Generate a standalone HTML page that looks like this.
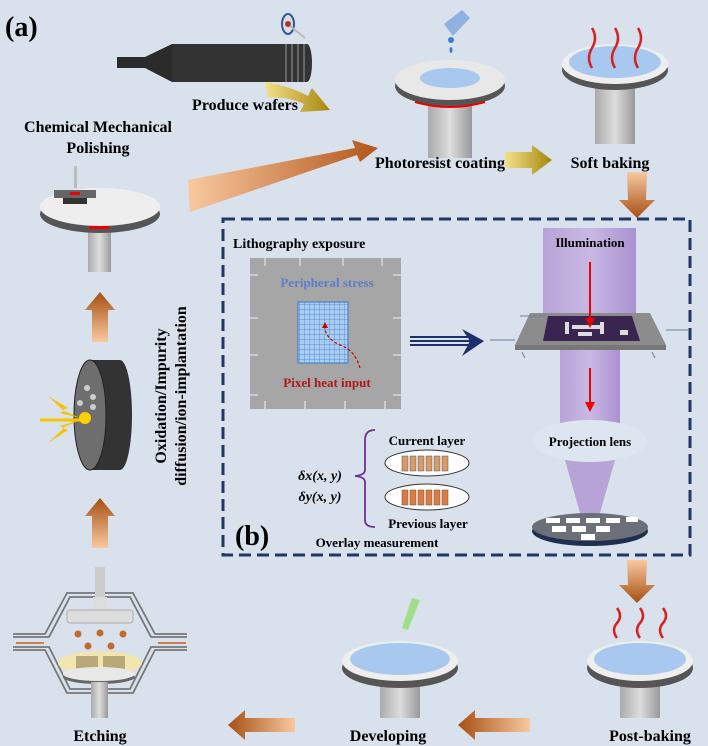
<!DOCTYPE html>
<html><head><style>
html,body{margin:0;padding:0;background:#d9e1ec;}
svg{display:block;}
text{font-family:"Liberation Serif",serif;font-weight:bold;}
</style></head><body>
<svg width="708" height="746" viewBox="0 0 708 746" xmlns="http://www.w3.org/2000/svg">
<defs>
<linearGradient id="og" x1="0" y1="0" x2="1" y2="0"><stop offset="0" stop-color="#f8c9a0"/><stop offset="1" stop-color="#b2561a"/></linearGradient>
<linearGradient id="ogv" x1="0" y1="1" x2="0" y2="0"><stop offset="0" stop-color="#f8c9a0"/><stop offset="1" stop-color="#a64f12"/></linearGradient>
<linearGradient id="ogd" x1="0" y1="0" x2="0" y2="1"><stop offset="0" stop-color="#f8c9a0"/><stop offset="1" stop-color="#a64f12"/></linearGradient>
<linearGradient id="ogl" x1="1" y1="0" x2="0" y2="0"><stop offset="0" stop-color="#f8c9a0"/><stop offset="1" stop-color="#a64f12"/></linearGradient>
<linearGradient id="gg" x1="0" y1="0" x2="1" y2="0"><stop offset="0" stop-color="#f3e08a"/><stop offset="1" stop-color="#a8860c"/></linearGradient>
<linearGradient id="stem" x1="0" y1="0" x2="1" y2="0"><stop offset="0" stop-color="#aaa"/><stop offset=".5" stop-color="#ddd"/><stop offset="1" stop-color="#999"/></linearGradient>
<linearGradient id="pur" x1="0" y1="0" x2="1" y2="0"><stop offset="0" stop-color="#b7a3d6"/><stop offset=".5" stop-color="#c9b8e4"/><stop offset="1" stop-color="#a992cf"/></linearGradient>
<pattern id="grid" width="5" height="5" patternUnits="userSpaceOnUse"><rect width="5" height="5" fill="#a9cdf2"/><path d="M5 0V5H0" fill="none" stroke="#3b78c4" stroke-width=".7"/></pattern>
</defs>

<text x="5" y="36" font-size="28">(a)</text>

<!-- pen -->
<rect x="117" y="57" width="28" height="11" fill="#2b2b2b"/>
<polygon points="145,57 172,44 172,82 145,68" fill="#2b2b2b"/>
<rect x="172" y="44" width="135" height="38" fill="#333"/>
<ellipse cx="307" cy="63" rx="5" ry="19" fill="#333"/>
<g stroke="#888" stroke-width="1.2"><line x1="286" y1="44" x2="286" y2="82"/><line x1="292" y1="44" x2="292" y2="82"/><line x1="298" y1="44" x2="298" y2="82"/><line x1="304" y1="44" x2="304" y2="82"/></g>
<ellipse cx="288" cy="24" rx="6" ry="10" fill="#ddd" stroke="#2f5597" stroke-width="2"/><circle cx="288" cy="24" r="3" fill="#a33"/>
<line x1="290" y1="26" x2="305" y2="38" stroke="#bbb" stroke-width="2"/>
<text x="245" y="110" font-size="16" text-anchor="middle">Produce wafers</text>
<path d="M265 82 Q290 86 308 96 L312 88 L330 110 L300 112 L304 104 Q288 96 268 98Z" fill="url(#gg)"/>

<!-- photoresist -->
<rect x="428" y="92" width="44" height="66" fill="url(#stem)"/>
<ellipse cx="450" cy="86" rx="55" ry="20" fill="#555"/>
<ellipse cx="450" cy="80" rx="55" ry="20" fill="#e8e8e8"/>
<ellipse cx="450" cy="78" rx="30" ry="10" fill="#a9c8ef"/>
<path d="M415 102 Q450 112 485 102" fill="none" stroke="#e00" stroke-width="2"/>
<path d="M444 24 L462 10 L470 18 L453 36Z" fill="#8fb2e0"/><circle cx="451" cy="40" r="3" fill="#3a7bd5"/><ellipse cx="451" cy="50" rx="1.5" ry="3" fill="#3a7bd5"/>
<text x="440" y="168" font-size="16" text-anchor="middle">Photoresist coating</text>
<polygon points="505,152 532,152 532,145 552,160 532,175 532,168 505,168" fill="url(#gg)"/>

<!-- soft baking -->
<rect x="595" y="78" width="40" height="66" fill="url(#stem)"/>
<ellipse cx="615" cy="70" rx="53" ry="20" fill="#555"/>
<ellipse cx="615" cy="64" rx="53" ry="20" fill="#eee"/>
<ellipse cx="615" cy="62" rx="46" ry="16" fill="#a9c8ef"/>
<g fill="none" stroke="#d82020" stroke-width="2.5">
<path d="M592 68 q-6 -10 0 -20 q6 -10 0 -20"/><path d="M615 68 q-6 -10 0 -20 q6 -10 0 -20"/><path d="M638 68 q-6 -10 0 -20 q6 -10 0 -20"/></g>
<text x="610" y="168" font-size="16" text-anchor="middle">Soft baking</text>
<polygon points="627,172 647,172 646,200 655,200 637,218 619,200 628,200" fill="url(#ogd)"/>

<!-- big wedge arrow -->
<polygon points="188,180 355,148 352,140 378,148 360,162 357,155 190,212" fill="url(#og)"/>

<!-- CMP -->
<text x="98" y="132" font-size="16" text-anchor="middle">Chemical Mechanical</text>
<text x="98" y="153" font-size="16" text-anchor="middle">Polishing</text>
<rect x="88" y="222" width="23" height="50" fill="url(#stem)"/>
<ellipse cx="100" cy="214" rx="60" ry="19" fill="#555"/>
<ellipse cx="100" cy="207" rx="60" ry="19" fill="#eee"/>
<rect x="74" y="166" width="3" height="22" fill="#bbb"/>
<rect x="54" y="190" width="42" height="8" fill="#666"/><rect x="63" y="198" width="24" height="6" fill="#333"/>
<rect x="70" y="192" width="10" height="3" fill="#e00"/>
<rect x="89" y="226" width="20" height="3" fill="#e00"/>

<!-- up arrows -->
<polygon points="92,342 108,342 108,310 115,310 100,292 85,310 92,310" fill="url(#ogv)"/>
<polygon points="92,548 108,548 108,516 115,516 100,498 85,516 92,516" fill="url(#ogv)"/>

<!-- cylinder -->
<path d="M90 360 L120 360 A12 55 0 0 1 120 470 L90 470Z" fill="#333"/>
<ellipse cx="90" cy="415" rx="16" ry="55" fill="#6e6e6e" stroke="#222"/>
<circle cx="87" cy="388" r="3" fill="#ccc"/><circle cx="93" cy="397" r="3" fill="#ccc"/><circle cx="80" cy="403" r="3" fill="#ccc"/><circle cx="93" cy="407" r="3" fill="#ccc"/>
<line x1="40" y1="420" x2="82" y2="420" stroke="#f5c400" stroke-width="3"/>
<polygon points="48,396 68,408 62,410 80,418 60,413 64,411" fill="#f5c400"/>
<polygon points="48,443 68,430 62,428 80,420 60,426 64,428" fill="#f5c400"/>
<circle cx="85" cy="418" r="6" fill="#ffd000"/>
<text transform="translate(166,396) rotate(-90)" font-size="16" text-anchor="middle">Oxidation/Impurity</text>
<text transform="translate(186,396) rotate(-90)" font-size="16" text-anchor="middle">diffusion/ion-implantation</text>

<!-- etching -->
<g fill="none" stroke="#777" stroke-width="1.8">
<path d="M13 634 H45 L67 593 H133 L155 634 H187"/><path d="M13 637 H49 L70 597 H130 L151 637 H187"/>
<path d="M13 650 H45 L67 693 H133 L155 650 H187"/><path d="M13 647 H49 L70 689 H130 L151 647 H187"/>
</g>
<line x1="16" y1="643" x2="44" y2="643" stroke="#c06020" stroke-width="1.5"/>
<line x1="158" y1="643" x2="186" y2="643" stroke="#c06020" stroke-width="1.5"/>
<rect x="95" y="567" width="10" height="32" fill="#ccc"/>
<rect x="93" y="597" width="14" height="14" fill="#ddd"/>
<rect x="67" y="610" width="66" height="13" rx="3" fill="#ddd" stroke="#aaa"/>
<ellipse cx="100" cy="663" rx="42" ry="12" fill="#f3e5b0"/>
<rect x="76" y="656" width="22" height="14" fill="#b9a878"/><rect x="103" y="656" width="22" height="14" fill="#b9a878"/>
<ellipse cx="99" cy="677" rx="36" ry="7" fill="#666"/>
<ellipse cx="99" cy="674" rx="36" ry="7" fill="#e8e8e8"/>
<rect x="91" y="682" width="17" height="36" fill="url(#stem)"/>
<g fill="#c06a30"><circle cx="78" cy="634" r="3.5"/><circle cx="100" cy="633" r="3.5"/><circle cx="123" cy="634" r="3.5"/><circle cx="88" cy="646" r="3.5"/><circle cx="111" cy="646" r="3.5"/></g>
<text x="100" y="741" font-size="16" text-anchor="middle">Etching</text>

<!-- bottom left arrows -->
<polygon points="530,718 475,718 475,710 458,725 475,740 475,732 530,732" fill="url(#ogl)"/>
<polygon points="295,718 245,718 245,710 228,725 245,740 245,732 295,732" fill="url(#ogl)"/>

<!-- developing -->
<rect x="380" y="672" width="40" height="46" fill="url(#stem)"/>
<ellipse cx="400" cy="668" rx="58" ry="20" fill="#555"/>
<ellipse cx="400" cy="661" rx="58" ry="20" fill="#eee"/>
<ellipse cx="400" cy="659" rx="50" ry="16" fill="#a9c8ef"/>
<path d="M402 628 L412 598 L420 600 L408 630Z" fill="#9ee08a"/>
<text x="388" y="741" font-size="16" text-anchor="middle">Developing</text>

<!-- post baking -->
<rect x="620" y="672" width="40" height="46" fill="url(#stem)"/>
<ellipse cx="640" cy="668" rx="53" ry="20" fill="#555"/>
<ellipse cx="640" cy="661" rx="53" ry="20" fill="#eee"/>
<ellipse cx="640" cy="659" rx="46" ry="16" fill="#a9c8ef"/>
<g fill="none" stroke="#d82020" stroke-width="2.5">
<path d="M617 638 q-6 -8 0 -15 q6 -7 0 -15"/><path d="M640 638 q-6 -8 0 -15 q6 -7 0 -15"/><path d="M663 638 q-6 -8 0 -15 q6 -7 0 -15"/></g>
<text x="650" y="741" font-size="16" text-anchor="middle">Post-baking</text>
<polygon points="627,560 647,560 646,585 655,585 637,603 619,585 628,585" fill="url(#ogd)"/>

<!-- dashed box -->
<rect x="223" y="219" width="467" height="336" fill="none" stroke="#1f3864" stroke-width="3" stroke-dasharray="12,6"/>
<text x="233" y="248" font-size="14">Lithography exposure</text>
<rect x="250" y="258" width="151" height="151" fill="#a6a6a6"/>
<g stroke="#eef" stroke-width="1"><line x1="265" y1="258" x2="265" y2="266"/><line x1="300" y1="258" x2="300" y2="266"/><line x1="343" y1="258" x2="343" y2="266"/><line x1="382" y1="258" x2="382" y2="266"/>
<line x1="265" y1="401" x2="265" y2="409"/><line x1="305" y1="401" x2="305" y2="409"/><line x1="345" y1="401" x2="345" y2="409"/><line x1="385" y1="401" x2="385" y2="409"/>
<line x1="250" y1="275" x2="258" y2="275"/><line x1="250" y1="318" x2="258" y2="318"/><line x1="250" y1="355" x2="258" y2="355"/><line x1="250" y1="395" x2="258" y2="395"/>
<line x1="393" y1="275" x2="401" y2="275"/><line x1="393" y1="318" x2="401" y2="318"/><line x1="393" y1="355" x2="401" y2="355"/><line x1="393" y1="395" x2="401" y2="395"/></g>
<rect x="298" y="302" width="50" height="61" fill="url(#grid)" stroke="#3b78c4"/>
<path d="M360 368 Q355 350 340 345 Q325 338 325 327" fill="none" stroke="#c00" stroke-width="1.2" stroke-dasharray="3,2"/>
<polygon points="322,328 328,328 325,322" fill="#c00"/>
<text x="327" y="287" font-size="13" fill="#5b7fc7" text-anchor="middle">Peripheral stress</text>
<text x="327" y="387" font-size="13" fill="#b01818" text-anchor="middle">Pixel heat input</text>
<g stroke="#1f2f6e" stroke-width="2"><line x1="410" y1="337" x2="470" y2="337"/><line x1="410" y1="341" x2="470" y2="341"/><line x1="410" y1="345" x2="470" y2="345"/></g>
<polygon points="462,329 484,341 462,356 470,341" fill="#1f2f6e"/>

<!-- overlay -->
<path d="M375 430 Q365 430 365 440 V470 Q365 475 355 476 Q365 477 365 482 V520 Q365 527 375 527" fill="none" stroke="#7030a0" stroke-width="1.8"/>
<text x="427" y="445" font-size="13" text-anchor="middle">Current layer</text>
<text x="428" y="528" font-size="13" text-anchor="middle">Previous layer</text>
<ellipse cx="427" cy="463" rx="42" ry="13" fill="#fff" stroke="#333"/>
<ellipse cx="427" cy="497" rx="42" ry="13" fill="#fff" stroke="#333"/>
<g fill="#d79a6a" stroke="#555" stroke-width=".5">
<rect x="402" y="456" width="6" height="15"/><rect x="410" y="456" width="6" height="15"/><rect x="418" y="456" width="6" height="15"/><rect x="426" y="456" width="6" height="15"/><rect x="434" y="456" width="6" height="15"/><rect x="442" y="456" width="6" height="15"/>
<rect x="402" y="490" width="6" height="15" fill="#e07a3a"/><rect x="410" y="490" width="6" height="15" fill="#e07a3a"/><rect x="418" y="490" width="6" height="15" fill="#e07a3a"/><rect x="426" y="490" width="6" height="15" fill="#e07a3a"/><rect x="434" y="490" width="6" height="15" fill="#e07a3a"/><rect x="442" y="490" width="6" height="15" fill="#e07a3a"/></g>
<text x="320" y="480" font-size="14" font-style="italic" text-anchor="middle">δx(x, y)</text>
<text x="320" y="501" font-size="14" font-style="italic" text-anchor="middle">δy(x, y)</text>
<text x="235" y="545" font-size="28">(b)</text>
<text x="377" y="547" font-size="13" text-anchor="middle">Overlay measurement</text>

<!-- optics -->
<rect x="543" y="228" width="93" height="92" fill="url(#pur)"/>
<text x="590" y="247" font-size="13" text-anchor="middle">Illumination</text>
<polygon points="530,313 650,313 666,345 515,345" fill="#8c8c8c"/>
<rect x="515" y="345" width="151" height="5" fill="#777"/>
<polygon points="548,316 632,316 640,341 543,341" fill="#3a2550"/>
<g fill="#ddd"><rect x="565" y="322" width="4" height="12"/><rect x="572" y="325" width="28" height="4"/><rect x="600" y="322" width="4" height="12"/><rect x="578" y="332" width="14" height="4"/><rect x="620" y="330" width="8" height="5"/></g>
<g stroke="#6a7fa0" stroke-width="1"><line x1="490" y1="340" x2="515" y2="340"/><line x1="666" y1="330" x2="688" y2="330"/><line x1="520" y1="316" x2="545" y2="316"/><line x1="525" y1="358" x2="522" y2="352"/><line x1="655" y1="358" x2="652" y2="352"/></g>
<line x1="590" y1="262" x2="590" y2="322" stroke="#e00" stroke-width="2"/><polygon points="585,318 595,318 590,328" fill="#e00"/>
<rect x="560" y="350" width="60" height="75" fill="url(#pur)"/>
<line x1="590" y1="368" x2="590" y2="405" stroke="#e00" stroke-width="2"/><polygon points="585,402 595,402 590,412" fill="#e00"/>
<polygon points="565,460 615,460 598,520 582,520" fill="#b7a3d6"/>
<ellipse cx="590" cy="441" rx="57" ry="21" fill="#dde6f0"/>
<text x="590" y="446" font-size="13" text-anchor="middle">Projection lens</text>
<ellipse cx="590" cy="531" rx="58" ry="15" fill="#1f2f50"/>
<ellipse cx="590" cy="527" rx="58" ry="14" fill="#6b6f78"/>
<g fill="#fff"><rect x="546" y="518" width="14" height="5"/><rect x="566" y="518" width="14" height="5"/><rect x="586" y="518" width="14" height="5"/><rect x="606" y="518" width="14" height="5"/><rect x="626" y="517" width="12" height="5"/>
<rect x="552" y="526" width="14" height="6"/><rect x="572" y="526" width="14" height="6"/><rect x="596" y="526" width="14" height="6"/><rect x="581" y="534" width="14" height="6"/></g>
</svg>
</body></html>
